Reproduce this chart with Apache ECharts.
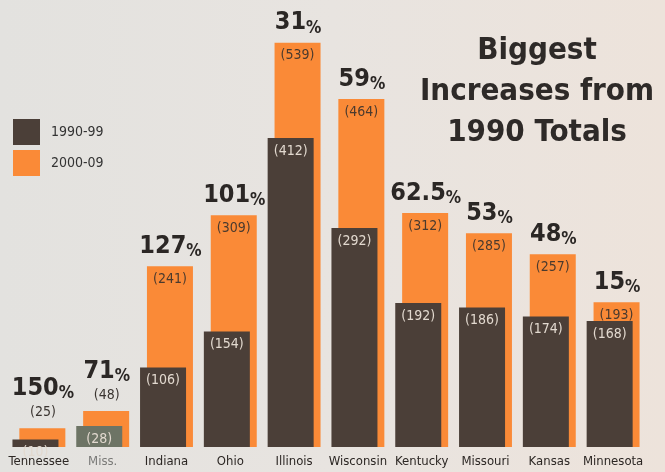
<!DOCTYPE html>
<html>
<head>
<meta charset="utf-8">
<script src="https://cdn.jsdelivr.net/npm/echarts@6/dist/echarts.min.js"></script>
<style>
html,body{margin:0;padding:0;}
#chart{width:665px;height:472px;}
</style>
</head>
<body>
<div id="chart"></div>
<script>
const categories = ['Tennessee','Miss.','Indiana','Ohio','Illinois','Wisconsin','Kentucky','Missouri','Kansas','Minnesota'];
const totals1990s = [10,28,106,154,412,292,192,186,174,168];
const totals2000s = [25,48,241,309,539,464,312,285,257,193];
const pctIncrease = ['150','71','127','101','31','59','62.5','53','48','15'];
const seriesNames = ['1990-99','2000-09'];

const FONT = "'Liberation Sans Narrow','DejaVu Sans Condensed','Roboto',sans-serif";
const DARK = '#4b3f38';
const MISS_DARK = '#6d7465';
const ORANGE = '#fa8a37';
const SHORT = 60;

const chart = echarts.init(document.getElementById('chart'));

const darkData = totals1990s.map((v, i) => ({
  value: v,
  itemStyle: { color: categories[i] === 'Miss.' ? MISS_DARK : DARK }
}));
const orangeData = totals2000s.map((v) => ({
  value: v,
  label: { show: v >= SHORT }
}));

chart.setOption({
  backgroundColor: {
    type: 'linear', x: 0, y: 0, x2: 1, y2: 0,
    colorStops: [{ offset: 0, color: '#e3e2df' }, { offset: 0.5, color: '#e8e4e0' }, { offset: 1, color: '#ede3db' }]
  },
  animation: false,
  title: {
    text: 'Biggest\nIncreases from\n1990 Totals',
    left: 532, top: 25, textAlign: 'center',
    textStyle: { fontFamily: FONT, fontWeight: 'bold', fontSize: 31, lineHeight: 41, color: '#2e2a28' }
  },
  legend: {
    orient: 'vertical', left: 8, top: 114, itemWidth: 27, itemHeight: 26, itemGap: 5,
    icon: 'rect',
    data: seriesNames,
    textStyle: { fontFamily: FONT, fontSize: 14, color: '#333', padding: [0, 0, 0, 6] }
  },
  grid: { left: 7, right: 20, top: 27, bottom: 25 },
  xAxis: {
    type: 'category', data: categories,
    axisLine: { show: false }, axisTick: { show: false },
    axisLabel: {
      margin: 8, fontFamily: FONT, fontSize: 13, color: '#2c2724', interval: 0,
      formatter: (v) => v === 'Miss.' ? '{g|' + v + '}' : v,
      rich: { g: { fontFamily: FONT, fontSize: 13, color: '#7a7a78' } }
    }
  },
  yAxis: { type: 'value', min: 0, max: 560, show: false, splitLine: { show: false } },
  series: [
    {
      name: seriesNames[0], type: 'bar', data: darkData, barWidth: 46, barGap: '-85%', z: 3,
      itemStyle: { color: DARK },
      label: {
        show: true, position: 'insideTop', distance: 6,
        formatter: (p) => '(' + p.value + ')',
        fontFamily: FONT, fontSize: 14, color: '#e2d9cf'
      }
    },
    {
      name: seriesNames[1], type: 'bar', data: orangeData, barWidth: 46, z: 2,
      itemStyle: { color: ORANGE },
      label: {
        position: 'insideTop', distance: 6,
        formatter: (p) => '(' + p.value + ')',
        fontFamily: FONT, fontSize: 14, color: '#4a3a2e'
      }
    },
    {
      name: 'pct', type: 'scatter', data: totals2000s, symbolSize: 0, z: 5, silent: true,
      itemStyle: { opacity: 1 },
      label: {
        show: true, position: 'top', distance: 6, offset: [4, 0],
        formatter: (p) => {
          const i = p.dataIndex;
          let s = '{p|' + pctIncrease[i] + '}{s|%}';
          if (totals2000s[i] < SHORT) s += '\n{v|(' + totals2000s[i] + ')}';
          return s;
        },
        rich: {
          p: { fontFamily: FONT, fontWeight: 'bold', fontSize: 25, lineHeight: 28, color: '#2b2725' },
          s: { fontFamily: FONT, fontWeight: 'bold', fontSize: 17, lineHeight: 28, color: '#2b2725', verticalAlign: 'bottom' },
          v: { fontFamily: FONT, fontSize: 14, lineHeight: 20, color: '#3a3430', align: 'center' }
        },
        align: 'center'
      }
    }
  ]
});
</script>
</body>
</html>
